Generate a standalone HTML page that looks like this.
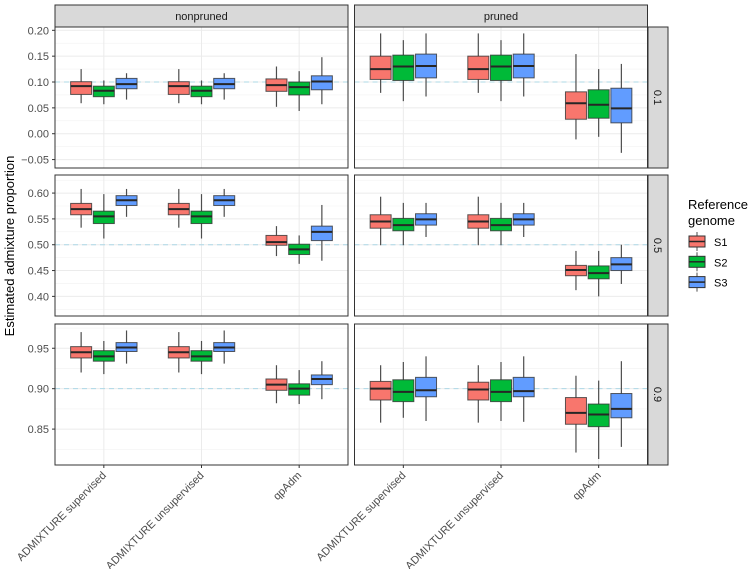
<!DOCTYPE html>
<html><head><meta charset="utf-8"><style>
html,body{margin:0;padding:0;background:#fff;}
svg{display:block;font-family:"Liberation Sans",Arial,sans-serif;}
</style></head><body>
<svg id="chart" width="750" height="569" viewBox="0 0 750 569" xmlns="http://www.w3.org/2000/svg">
<text transform="translate(14,246) rotate(-90)" text-anchor="middle" font-size="13" fill="#000">Estimated admixture proportion</text>
<g>
<text x="688" y="209" font-size="13" fill="#000">Reference</text>
<text x="688" y="225" font-size="13" fill="#000">genome</text>
</g>
</svg>
<script>
const categories = ["ADMIXTURE supervised","ADMIXTURE unsupervised","qpAdm"];
const columns = ["nonpruned","pruned"];
const rowsLab = ["0.1","0.5","0.9"];
const series = ["S1","S2","S3"];
const colors = ["#F8766D","#00BA38","#619CFF"];
const trueVals = [0.1,0.5,0.9];
const domains = [[-0.0663,0.2064],[0.362,0.635],[0.8056,0.980]];
const ticks = [[-0.05,0,0.05,0.10,0.15,0.20],[0.40,0.45,0.50,0.55,0.60],[0.85,0.90,0.95]];
const tickLabels = [["\u22120.05","0.00","0.05","0.10","0.15","0.20"],["0.40","0.45","0.50","0.55","0.60"],["0.85","0.90","0.95"]];
// stats: [low, q1, median, q3, high]; index [row][col][category][series]
const r1nonpruned = [
 [[0.059,0.076,0.092,0.1006,0.125],[0.057,0.0716,0.083,0.092,0.103],[0.066,0.087,0.096,0.107,0.117]],
 [[0.059,0.076,0.092,0.1006,0.125],[0.057,0.0716,0.083,0.092,0.103],[0.066,0.087,0.096,0.107,0.117]],
 [[0.052,0.082,0.094,0.106,0.13],[0.044,0.075,0.09,0.10,0.121],[0.057,0.085,0.101,0.112,0.148]]];
const r1pruned = [
 [[0.079,0.105,0.125,0.150,0.194],[0.063,0.103,0.130,0.152,0.181],[0.072,0.108,0.131,0.154,0.194]],
 [[0.079,0.105,0.125,0.150,0.194],[0.063,0.103,0.130,0.152,0.181],[0.072,0.108,0.131,0.154,0.194]],
 [[-0.011,0.028,0.059,0.081,0.154],[-0.006,0.030,0.056,0.085,0.125],[-0.037,0.021,0.049,0.088,0.135]]];
const r2nonpruned = [
 [[0.533,0.558,0.569,0.580,0.608],[0.512,0.541,0.555,0.565,0.598],[0.554,0.576,0.586,0.595,0.608]],
 [[0.533,0.558,0.569,0.580,0.608],[0.512,0.541,0.555,0.565,0.598],[0.554,0.576,0.586,0.595,0.608]],
 [[0.478,0.499,0.505,0.518,0.536],[0.463,0.481,0.491,0.501,0.518],[0.469,0.508,0.525,0.536,0.577]]];
const r2pruned = [
 [[0.499,0.532,0.545,0.558,0.593],[0.499,0.527,0.538,0.551,0.581],[0.515,0.538,0.549,0.560,0.581]],
 [[0.499,0.532,0.545,0.558,0.593],[0.499,0.527,0.538,0.551,0.581],[0.515,0.538,0.549,0.560,0.581]],
 [[0.412,0.440,0.451,0.460,0.488],[0.400,0.434,0.445,0.459,0.488],[0.424,0.450,0.462,0.475,0.500]]];
const r3nonpruned = [
 [[0.920,0.938,0.945,0.952,0.970],[0.918,0.934,0.940,0.947,0.959],[0.931,0.946,0.951,0.957,0.972]],
 [[0.920,0.938,0.945,0.952,0.970],[0.918,0.934,0.940,0.947,0.959],[0.931,0.946,0.951,0.957,0.972]],
 [[0.882,0.898,0.905,0.912,0.929],[0.881,0.892,0.900,0.906,0.923],[0.887,0.905,0.912,0.917,0.934]]];
const r3pruned = [
 [[0.858,0.886,0.900,0.909,0.929],[0.864,0.884,0.896,0.911,0.933],[0.860,0.890,0.898,0.914,0.940]],
 [[0.858,0.886,0.899,0.908,0.929],[0.860,0.884,0.896,0.911,0.933],[0.859,0.890,0.897,0.914,0.940]],
 [[0.821,0.856,0.870,0.889,0.916],[0.813,0.853,0.868,0.881,0.910],[0.828,0.864,0.875,0.894,0.934]]];
const stats = [[r1nonpruned,r1pruned],[r2nonpruned,r2pruned],[r3nonpruned,r3pruned]];

const NS="http://www.w3.org/2000/svg";
const svg=document.getElementById('chart');
const colX=[55,354.5], panelW=293;
const rowY=[27,175,324], panelH=141;
function mk(tag,attrs,parent){const e=document.createElementNS(NS,tag);for(const k in attrs)e.setAttribute(k,attrs[k]);(parent||svg).appendChild(e);return e;}
function xScale(c,ci,si){const step=panelW/3;return colX[c]+step*(ci+0.5)+(si-1)*22.7;}
function yScale(r,v){const d=domains[r];return rowY[r]+panelH-(v-d[0])/(d[1]-d[0])*panelH;}

// column strips
columns.forEach((name,c)=>{
 const g=mk('g',{});
 
 
 mk('rect',{x:colX[c],y:5,width:panelW,height:22,fill:'#d9d9d9',stroke:'#333','stroke-width':1},g);
 const t=mk('text',{x:colX[c]+panelW/2,y:20,'text-anchor':'middle','font-size':11,fill:'#1a1a1a'},g);t.textContent=name;
});
// row strips
rowsLab.forEach((lab,r)=>{
 const g=mk('g',{});
 
 
 mk('rect',{x:648,y:rowY[r],width:20,height:panelH,fill:'#d9d9d9',stroke:'#333','stroke-width':1},g);
 const t=mk('text',{transform:`translate(654,${rowY[r]+panelH/2}) rotate(90)`,'text-anchor':'middle','font-size':11,fill:'#1a1a1a'},g);t.textContent=lab;
});

for(let r=0;r<3;r++){
 // y tick labels
 ticks[r].forEach((tv,ti)=>{
  const y=yScale(r,tv);
  const t=mk('text',{x:49,y:y+4,'text-anchor':'end','font-size':11,fill:'#4d4d4d'});
  
  
  t.textContent=tickLabels[r][ti];
  mk('line',{x1:52,x2:55,y1:y,y2:y,stroke:'#333','stroke-width':1});
 });
 for(let c=0;c<2;c++){
  const g=mk('g',{});
  
  
  mk('rect',{x:colX[c],y:rowY[r],width:panelW,height:panelH,fill:'#fff'},g);
  // minor grid
  const tk=ticks[r], st=tk[1]-tk[0];
  for(let v=tk[0]-st/2;v<domains[r][1];v+=st){ if(v<domains[r][0])continue; const y=yScale(r,v); mk('line',{x1:colX[c],x2:colX[c]+panelW,y1:y,y2:y,stroke:'#f2f2f2','stroke-width':0.6},g);}
  tk.forEach(v=>{const y=yScale(r,v);mk('line',{x1:colX[c],x2:colX[c]+panelW,y1:y,y2:y,stroke:'#ebebeb','stroke-width':1},g);});
  categories.forEach((cat,ci)=>{const x=xScale(c,ci,1);mk('line',{x1:x,x2:x,y1:rowY[r],y2:rowY[r]+panelH,stroke:'#ebebeb','stroke-width':1},g);});
  // reference line
  const ry=yScale(r,trueVals[r]);
  const rl=mk('line',{x1:colX[c],x2:colX[c]+panelW,y1:ry,y2:ry,stroke:'#add8e6','stroke-width':1,'stroke-dasharray':'5,4'},g);
  
  
  // boxes
  categories.forEach((cat,ci)=>{
   series.forEach((s,si)=>{
    const d=stats[r][c][ci][si];
    const x=xScale(c,ci,si), w=21;
    const bg=mk('g',{},g);
    
    
    mk('line',{x1:x,x2:x,y1:yScale(r,d[0]),y2:yScale(r,d[4]),stroke:'#4d4d4d','stroke-width':1.2},bg);
    mk('rect',{x:x-w/2,y:yScale(r,d[3]),width:w,height:yScale(r,d[1])-yScale(r,d[3]),fill:colors[si],stroke:'#333','stroke-opacity':0.8,'stroke-width':1},bg);
    mk('line',{x1:x-w/2,x2:x+w/2,y1:yScale(r,d[2]),y2:yScale(r,d[2]),stroke:'#262626','stroke-width':2},bg);
   });
  });
  mk('rect',{x:colX[c],y:rowY[r],width:panelW,height:panelH,fill:'none',stroke:'#333','stroke-width':1},g);
 }
}
// x axis labels
for(let c=0;c<2;c++){
 categories.forEach((cat,ci)=>{
  const x=xScale(c,ci,1), y=rowY[2]+panelH;
  mk('line',{x1:x,x2:x,y1:y,y2:y+3,stroke:'#333','stroke-width':1});
  const t=mk('text',{transform:`translate(${x+3},${y+11}) rotate(-45)`,'text-anchor':'end','font-size':11,fill:'#4d4d4d'});
  
  
  t.textContent=cat;
 });
}
// legend keys
series.forEach((s,si)=>{
 const y=236+si*20.3;
 const g=mk('g',{});
 
 
 mk('line',{x1:697,x2:697,y1:y-4,y2:y+15,stroke:'#4d4d4d','stroke-width':1},g);
 mk('rect',{x:689,y:y,width:16,height:11,fill:colors[si],stroke:'#333','stroke-width':1},g);
 mk('line',{x1:689,x2:705,y1:y+5.5,y2:y+5.5,stroke:'#262626','stroke-width':1.5},g);
 const t=mk('text',{x:714,y:y+10,'font-size':11,fill:'#000'},g);t.textContent=s;
});
</script>
</body></html>
